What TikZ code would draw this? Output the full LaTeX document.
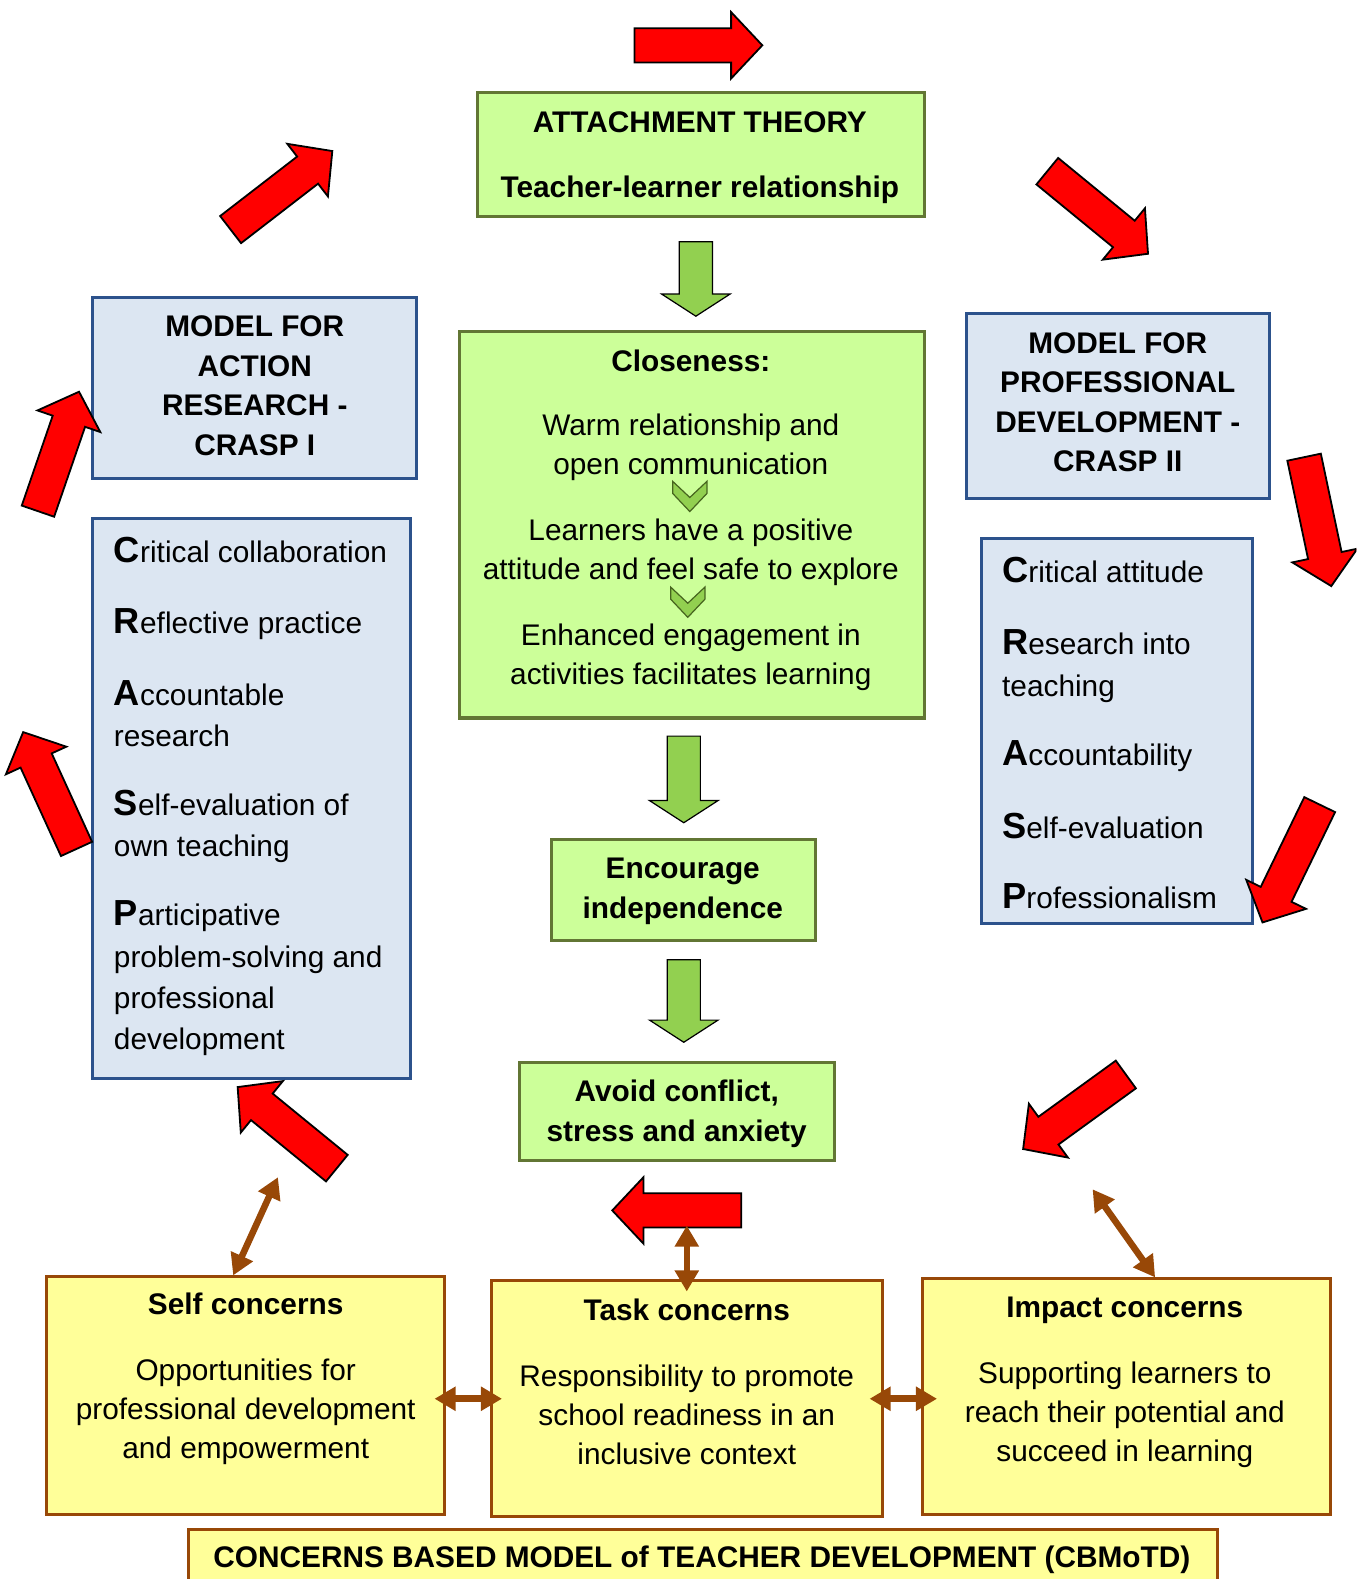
\documentclass[tikz,border=0pt]{standalone}
\usepackage{fontspec}
\setmainfont{Liberation Sans}
\usetikzlibrary{calc,arrows.meta}

\definecolor{boxgreen}{RGB}{204,255,153}
\definecolor{edgegreen}{RGB}{98,118,52}
\definecolor{arrgreen}{RGB}{146,208,80}
\definecolor{boxblue}{RGB}{220,230,242}
\definecolor{edgeblue}{RGB}{44,82,140}
\definecolor{boxyellow}{RGB}{255,255,153}
\definecolor{edgebrown}{RGB}{152,72,7}
\definecolor{chevedge}{RGB}{70,100,30}

\newcommand{\txtsize}{\fontsize{29.6}{39}\selectfont}
\newcommand{\bigini}[1]{{\fontsize{36}{40}\selectfont\bfseries #1}}

% block arrow: style, tail, tip, half shaft width, half head width, head length
\newcommand{\blockarrow}[6]{%
  \coordinate (ba-t) at #2;
  \coordinate (ba-h) at #3;
  \coordinate (ba-n) at ($(ba-h)!#6!(ba-t)$);
  \filldraw[#1] ($(ba-t)!#4!90:(ba-h)$) -- ($(ba-n)!#4!90:(ba-h)$)
    -- ($(ba-n)!#5!90:(ba-h)$) -- (ba-h) -- ($(ba-n)!#5!-90:(ba-h)$)
    -- ($(ba-n)!#4!-90:(ba-h)$) -- ($(ba-t)!#4!-90:(ba-h)$) -- cycle;
}
\newcommand{\redarrow}[2]{\blockarrow{redarr}{#1}{#2}{17pt}{33pt}{31pt}}
\newcommand{\greenarrow}[2]{\blockarrow{greenarr}{#1}{#2}{16.5pt}{34pt}{22pt}}

\tikzset{
  gbox/.style={draw=edgegreen, fill=boxgreen, line width=3pt, inner sep=0pt},
  bbox/.style={draw=edgeblue, fill=boxblue, line width=3pt, inner sep=0pt},
  ybox/.style={draw=edgebrown, fill=boxyellow, line width=3pt, inner sep=0pt},
  txt/.style={inner sep=0pt, align=center, font=\txtsize},
  redarr/.style={fill=red, draw=black, line width=1.8pt},
  greenarr/.style={fill=arrgreen, draw=black, line width=1.2pt},
  chevron/.style={fill=arrgreen, draw=chevedge, line width=1.2pt},
  link/.style={draw=edgebrown, line width=6.5pt,
    {Triangle[width=23pt,length=21pt]}-{Triangle[width=23pt,length=21pt]}}
}

\begin{document}
\begin{tikzpicture}[x=1pt,y=-1pt]
\useasboundingbox (0,0) rectangle (1347,1568);
\clip (0,0) rectangle (1347,1568);

% central column
\node[gbox, minimum width=444pt, minimum height=123pt] (att) at (696,153.5) {};
\node[txt, font=\txtsize\bfseries] (attT) at (695,156.5)
  {ATTACHMENT THEORY\\[26pt]Teacher-learner relationship};

\node[gbox, minimum width=462pt, minimum height=384pt] (close) at (687,521) {};
\node[txt] (closeT) at (686,516.5)
  {\textbf{Closeness:}\\[25pt]Warm relationship and\\open communication\\[26pt]%
   Learners have a positive\\attitude and feel safe to explore\\[26pt]%
   Enhanced engagement in\\activities facilitates learning};

\node[gbox, minimum width=262pt, minimum height=100pt] (enc) at (679,884) {};
\node[txt, font=\fontsize{29.6}{40}\selectfont\bfseries] (encT) at (678,885)
  {Encourage\\independence};

\node[gbox, minimum width=313pt, minimum height=97pt] (avoid) at (672.5,1103.5) {};
\node[txt, font=\fontsize{29.6}{40}\selectfont\bfseries] (avoidT) at (672,1106)
  {Avoid conflict,\\stress and anxiety};

% left column
\node[bbox, minimum width=322pt, minimum height=180pt] (mar) at (253,385) {};
\node[txt, font=\fontsize{29.6}{39.3}\selectfont\bfseries] (marT) at (253,383)
  {MODEL FOR\\ACTION\\RESEARCH -\\CRASP I};

\node[bbox, minimum width=316pt, minimum height=556pt] (crasp1) at (250,793) {};
\node[txt, align=left, anchor=west, font=\fontsize{29.6}{41}\selectfont] (crasp1T) at (113,791)
  {\bigini{C}ritical collaboration\\[30pt]%
   \bigini{R}eflective practice\\[30pt]%
   \bigini{A}ccountable\\research\\[27pt]%
   \bigini{S}elf-evaluation of\\own teaching\\[28pt]%
   \bigini{P}articipative\\problem-solving and\\professional\\development};

% right column
\node[bbox, minimum width=301pt, minimum height=184pt] (mpd) at (1110.5,403) {};
\node[txt, font=\fontsize{29.6}{39.3}\selectfont\bfseries] (mpdT) at (1110,399.5)
  {MODEL FOR\\PROFESSIONAL\\DEVELOPMENT -\\CRASP II};

\node[bbox, minimum width=269pt, minimum height=382pt] (crasp2) at (1109.5,726) {};
\node[txt, align=left, anchor=west, font=\fontsize{29.6}{41}\selectfont] (crasp2T) at (995,728)
  {\bigini{C}ritical attitude\\[31pt]%
   \bigini{R}esearch into\\teaching\\[28pt]%
   \bigini{A}ccountability\\[31pt]%
   \bigini{S}elf-evaluation\\[29pt]%
   \bigini{P}rofessionalism};

% concerns row
\node[ybox, minimum width=395pt, minimum height=236pt] (self) at (243.5,1386) {};
\node[txt] (selfT) at (244,1369.5)
  {\textbf{Self concerns}\\[26pt]Opportunities for\\professional development\\and empowerment};

\node[ybox, minimum width=388pt, minimum height=234pt] (task) at (682,1389) {};
\node[txt] (taskT) at (682,1372.5)
  {\textbf{Task concerns}\\[26pt]Responsibility to promote\\school readiness in an\\inclusive context};

\node[ybox, minimum width=405pt, minimum height=234pt] (impact) at (1118.5,1387) {};
\node[txt] (impactT) at (1117,1373)
  {\textbf{Impact concerns}\\[26pt]Supporting learners to\\reach their potential and\\succeed in learning};

\node[ybox, line width=3.5pt, minimum width=1022pt, minimum height=56pt] (title) at (698,1547) {};
\node[txt, font=\txtsize\bfseries] (titleT) at (697,1549)
  {CONCERNS BASED MODEL of TEACHER DEVELOPMENT (CBMoTD)};

% downward flow arrows
\greenarrow{(691,240)}{(691,314)}
\greenarrow{(679,731)}{(679,817)}
\greenarrow{(679,953)}{(679,1035)}

% chevrons between the closeness statements
\filldraw[chevron, shift={(685,478)}] (-17,0) -- (0,16) -- (17,0) -- (17,12) -- (0,30) -- (-17,12) -- cycle;
\filldraw[chevron, shift={(683,583)}] (-17,0) -- (0,16) -- (17,0) -- (17,12) -- (0,30) -- (-17,12) -- cycle;

% clockwise cycle of red arrows
\redarrow{(630,45)}{(757,45)}
\redarrow{(229,228)}{(330,150)}
\redarrow{(1040,170)}{(1140,252)}
\redarrow{(37.7,507.6)}{(78.5,389)}
\redarrow{(76,843)}{(23,727)}
\redarrow{(1295,454)}{(1322,582)}
\redarrow{(1310.5,799)}{(1253.7,916)}
\redarrow{(1118,1067)}{(1016,1141)}
\redarrow{(334.5,1160)}{(236,1079.5)}
\redarrow{(736,1202)}{(608,1202)}

% two-way links of the concerns
\coordinate (selfLink) at (276,1169);
\coordinate (taskLink) at (682,1217);
\coordinate (impactLink) at (1085,1181);
\draw[link] (selfLink) -- ($(self.north west)!0.47!(self.north east)$);
\draw[link, shorten >=-12pt] (taskLink) -- (task.north);
\draw[link] (impactLink) -- ($(impact.north west)!0.57!(impact.north east)$);
\draw[link, shorten <=-11pt, shorten >=-12pt] (self.east |- task.west) -- (task.west);
\draw[link, shorten <=-14pt, shorten >=-16pt] (task.east) -- (impact.west |- task.east);
\end{tikzpicture}
\end{document}
